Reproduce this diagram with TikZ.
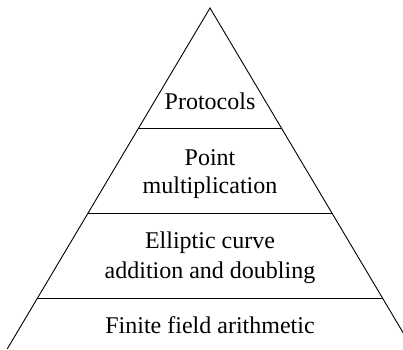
\documentclass[tikz,border=0pt]{standalone}
\usepackage{fontspec}
\setmainfont{Liberation Serif}
\begin{document}
\begin{tikzpicture}[x=1pt,y=-1pt,
  edge/.style={line width=0.9pt},
  label/.style={font=\fontsize{24}{28}\selectfont, inner sep=0pt, anchor=base, align=center}]
\useasboundingbox (0,0) rectangle (403,349);
\clip (0,0) rectangle (403,349);
\coordinate (apex) at (210,8);
\coordinate (bl) at (7.2,349);
\coordinate (br) at (412.8,349);
\coordinate (l1) at (138.6,128);
\coordinate (r1) at (281.4,128);
\coordinate (l2) at (88.0,213);
\coordinate (r2) at (332.0,213);
\coordinate (l3) at (37.4,298);
\coordinate (r3) at (382.6,298);
\draw[edge] (bl) -- (apex) -- (br);
\draw[edge] (l1) -- (r1);
\draw[edge] (l2) -- (r2);
\draw[edge] (l3) -- (r3);
\node[label] (protocols) at (210,109.3) {Protocols};
\node[label] (point) at (210,193.3) {Point\\multiplication};
\node[label, font=\fontsize{24}{30}\selectfont] (ecc) at (210,278.3) {Elliptic curve\\addition and doubling};
\node[label] (field) at (210,333) {Finite field arithmetic};
\end{tikzpicture}
\end{document}
